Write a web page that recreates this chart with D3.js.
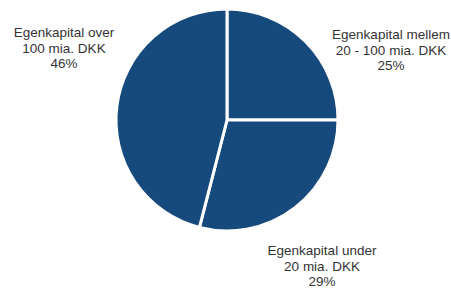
<!DOCTYPE html>
<html>
<head>
<meta charset="utf-8">
<script src="https://cdn.jsdelivr.net/npm/d3@7"></script>
<style>
	body { margin: 0; background: #fff; }
	svg text { font-family: "Liberation Sans", Arial, sans-serif; font-size: 13.5px; fill: #333; }
</style>
</head>
<body>
<div id="chart-area"></div>
<script>
// data
const categories = ["Egenkapital mellem|20 - 100 mia. DKK", "Egenkapital under|20 mia. DKK", "Egenkapital over|100 mia. DKK"];
const shares = [25, 29, 46];
// label anchor (first baseline) for each slice
const labelPos = [[391, 39], [322, 255], [64, 37]];

const width = 451, height = 290;
const cx = 227, cy = 120, radius = 111;

let svg = d3.select("#chart-area").append("svg")
	.attr("width", width)
	.attr("height", height);

let data = categories.map((c, i) => ({ name: c, value: shares[i], pos: labelPos[i] }));

let pie = d3.pie()
	.value(d => d.value)
	.sort(null);

let arc = d3.arc()
	.innerRadius(0)
	.outerRadius(radius);

let g = svg.append("g")
	.attr("transform", "translate(" + cx + "," + cy + ")");

g.selectAll("path")
	.data(pie(data))
	.enter()
	.append("path")
	.attr("d", arc)
	.attr("fill", "#174a7c")
	.attr("stroke", "#fff")
	.attr("stroke-width", 3)
	.attr("stroke-linejoin", "round");

// labels
let labels = svg.selectAll("text.lbl")
	.data(data)
	.enter()
	.append("text")
	.attr("class", "lbl")
	.attr("text-anchor", "middle")
	.attr("x", d => d.pos[0])
	.attr("y", d => d.pos[1]);

labels.each(function(d) {
	let lines = d.name.split("|").concat([d.value + "%"]);
	d3.select(this).selectAll("tspan")
		.data(lines)
		.enter()
		.append("tspan")
		.attr("x", d.pos[0])
		.attr("dy", (l, i) => i === 0 ? 0 : 15.5)
		.text(l => l);
});
</script>
</body>
</html>
